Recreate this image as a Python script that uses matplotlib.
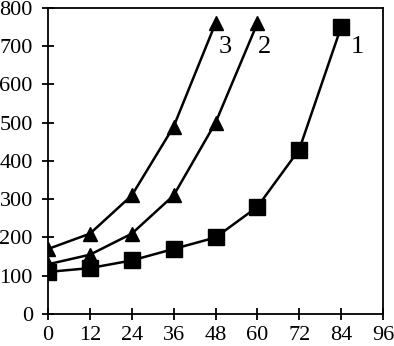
import matplotlib
matplotlib.use("Agg")
import matplotlib.pyplot as plt

x1 = [0, 12, 24, 36, 48, 60, 72, 84]
y1 = [110, 120, 140, 170, 200, 280, 430, 750]
x2 = [0, 12, 24, 36, 48, 60]
y2 = [130, 155, 210, 310, 500, 760]
x3 = [0, 12, 24, 36, 48]
y3 = [170, 210, 310, 490, 760]
labels = ["1", "2", "3"]
label_pos = [(88.5, 698), (62.0, 698), (50.8, 698)]
xticks = list(range(0, 97, 12))
yticks = list(range(0, 801, 100))

plt.rcParams['font.family'] = ['Liberation Serif', 'DejaVu Serif']

fig = plt.figure(figsize=(3.94, 3.46), dpi=100)
ax = fig.add_axes([0.122, 0.0925, 0.85, 0.8845])

ax.plot(x1, y1, color='black', lw=1.8, marker='s', ms=11.5, mfc='black', mec='black')
ax.plot(x2, y2, color='black', lw=1.8, marker='^', ms=10.5, mfc='black', mec='black')
ax.plot(x3, y3, color='black', lw=1.8, marker='^', ms=10.5, mfc='black', mec='black')

for lab, (lx, ly) in zip(labels, label_pos):
    ax.text(lx, ly, lab, fontsize=19, ha='center', va='center')

ax.set_xlim(0, 96)
ax.set_ylim(0, 800)
ax.set_xticks(xticks)
ax.set_yticks(yticks)
ax.tick_params(direction='inout', length=8, width=1.3, labelsize=16)
ax.tick_params(axis='x', pad=5)
ax.tick_params(axis='y', pad=7)
for s in ax.spines.values():
    s.set_linewidth(1.3)

fig.savefig("out.png", dpi=100)
